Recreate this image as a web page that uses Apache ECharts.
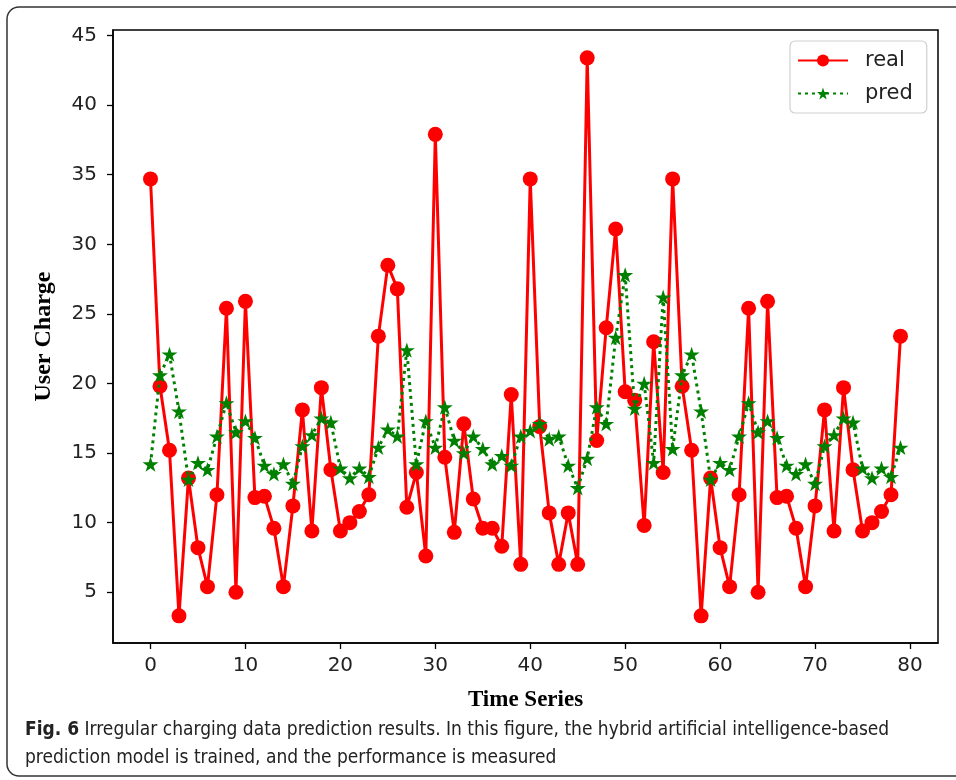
<!DOCTYPE html>
<html>
<head>
<meta charset="utf-8">
<script src="https://cdn.jsdelivr.net/npm/echarts@6/dist/echarts.min.js"></script>
<style>
html,body{margin:0;padding:0;background:#fff;}
#chart{width:956px;height:780px;}
</style>
</head>
<body>
<div id="chart"></div>
<script>
// ---- data ----
const timeIndex = Array.from({length: 80}, (_, i) => i);
const realValues = [
  34.7, 19.8, 15.2, 3.3, 13.2, 8.2, 5.4, 12.0, 25.4, 5.0,
  25.9, 11.8, 11.9, 9.6, 5.4, 11.2, 18.1, 9.4, 19.7, 13.8,
  9.4, 10.0, 10.8, 12.0, 23.4, 28.5, 26.8, 11.1, 13.6, 7.6,
  37.9, 14.7, 9.3, 17.1, 11.7, 9.6, 9.6, 8.3, 19.2, 7.0,
  34.7, 16.9, 10.7, 7.0, 10.7, 7.0, 43.4, 15.9, 24.0, 31.1,
  19.4, 18.8, 9.8, 23.0, 13.6, 34.7, 19.8, 15.2, 3.3, 13.2,
  8.2, 5.4, 12.0, 25.4, 5.0, 25.9, 11.8, 11.9, 9.6, 5.4,
  11.2, 18.1, 9.4, 19.7, 13.8, 9.4, 10.0, 10.8, 12.0, 23.4
];
const predValues = [
  14.2, 20.6, 22.1, 18.0, 13.1, 14.3, 13.8, 16.2, 18.6, 16.5,
  17.3, 16.1, 14.1, 13.5, 14.2, 12.8, 15.5, 16.3, 17.5, 17.2,
  13.9, 13.2, 13.9, 13.3, 15.4, 16.7, 16.2, 22.4, 14.2, 17.3,
  15.4, 18.3, 15.9, 15.0, 16.2, 15.3, 14.2, 14.8, 14.1, 16.2,
  16.6, 17.1, 16.0, 16.2, 14.1, 12.5, 14.6, 18.3, 17.1, 23.3,
  27.8, 18.2, 20.0, 14.3, 26.2, 15.3, 20.6, 22.1, 18.0, 13.1,
  14.3, 13.8, 16.2, 18.6, 16.5, 17.3, 16.1, 14.1, 13.5, 14.2,
  12.8, 15.5, 16.3, 17.5, 17.2, 13.9, 13.2, 13.9, 13.3, 15.4
];
const xTickValues = [0, 10, 20, 30, 40, 50, 60, 70, 80];
const yTickValues = [5, 10, 15, 20, 25, 30, 35, 40, 45];
const seriesNames = ['real', 'pred'];
const xAxisTitle = 'Time Series';
const yAxisTitle = 'User Charge';
const captionBold = 'Fig. 6';
const captionLine1 = ' Irregular charging data prediction results. In this figure, the hybrid artificial intelligence-based';
const captionLine2 = 'prediction model is trained, and the performance is measured';

const starPath = 'path://M50 0 L61.2 34.5 L97.6 34.5 L68.2 55.9 L79.4 90.5 L50 69.1 L20.6 90.5 L31.8 55.9 L2.4 34.5 L38.8 34.5 Z';
const tickFont = 'DejaVu Sans';
const capFont = "'Liberation Sans Narrow', 'DejaVu Sans Condensed', 'Liberation Sans', sans-serif";

const chart = echarts.init(document.getElementById('chart'), null, {renderer: 'canvas'});
const option = {
  animation: false,
  backgroundColor: '#fff',
  grid: {left: 113, top: 30, right: 18, bottom: 137, show: true, borderColor: '#000', borderWidth: 1.5, containLabel: false},
  xAxis: {
    type: 'value', min: -3.95, max: 82.95,
    name: xAxisTitle, nameLocation: 'middle', nameGap: 46,
    nameTextStyle: {fontFamily: "'Liberation Serif', serif", fontWeight: 'bold', fontSize: 23, color: '#000'},
    axisLine: {show: true, onZero: false, lineStyle: {color: '#000', width: 1.5}},
    axisTick: {show: true, length: 6, lineStyle: {color: '#000', width: 1.3}, customValues: xTickValues},
    axisLabel: {color: '#222', fontFamily: tickFont, fontSize: 20, margin: 13, customValues: xTickValues},
    splitLine: {show: false}
  },
  yAxis: {
    type: 'value', min: 1.35, max: 45.4,
    name: yAxisTitle, nameLocation: 'middle', nameGap: 57, nameRotate: 90,
    nameTextStyle: {fontFamily: "'Liberation Serif', serif", fontWeight: 'bold', fontSize: 24, color: '#000'},
    axisLine: {show: true, onZero: false, lineStyle: {color: '#000', width: 1.5}},
    axisTick: {show: true, length: 6, lineStyle: {color: '#000', width: 1.3}, customValues: yTickValues},
    axisLabel: {color: '#222', fontFamily: tickFont, fontSize: 20, margin: 16, customValues: yTickValues},
    splitLine: {show: false}
  },
  legend: {
    left: 790, top: 41, orient: 'vertical',
    width: 137, padding: [9, 14, 9, 7], itemGap: 12,
    itemWidth: 50, itemHeight: 15,
    borderColor: '#d0d0d0', borderWidth: 1.2, borderRadius: 5,
    backgroundColor: '#fff',
    textStyle: {fontFamily: tickFont, fontSize: 21, color: '#222', padding: [0, 0, 0, 12]},
    data: seriesNames
  },
  series: [
    {
      name: seriesNames[0], type: 'line',
      data: timeIndex.map((t, i) => [t, realValues[i]]),
      symbol: 'circle', symbolSize: 15, showAllSymbol: true,
      itemStyle: {color: '#ff0000'},
      lineStyle: {color: '#ff0000', width: 3},
      z: 2
    },
    {
      name: seriesNames[1], type: 'line',
      data: timeIndex.map((t, i) => [t, predValues[i]]),
      symbol: starPath, symbolSize: 16, symbolKeepAspect: true, showAllSymbol: true,
      itemStyle: {color: '#008000'},
      lineStyle: {color: '#008000', width: 3, type: [3, 4]},
      z: 3
    }
  ],
  graphic: [
    {
      type: 'rect', silent: true, z: -1,
      shape: {x: 7, y: 7, width: 1000, height: 769, r: 12},
      style: {fill: 'none', stroke: '#333', lineWidth: 1.5}
    },
    {
      type: 'text', left: 25, top: 721,
      style: {
        text: '{b|' + captionBold + '}{n|' + captionLine1 + '}',
        rich: {
          b: {fontFamily: capFont, fontWeight: 'bold', fontSize: 19, fill: '#222'},
          n: {fontFamily: capFont, fontSize: 19, fill: '#222'}
        }
      }
    },
    {
      type: 'text', left: 25, top: 749,
      style: {text: captionLine2, fontFamily: capFont, fontSize: 19, fill: '#222'}
    }
  ]
};
chart.setOption(option);
</script>
</body>
</html>
